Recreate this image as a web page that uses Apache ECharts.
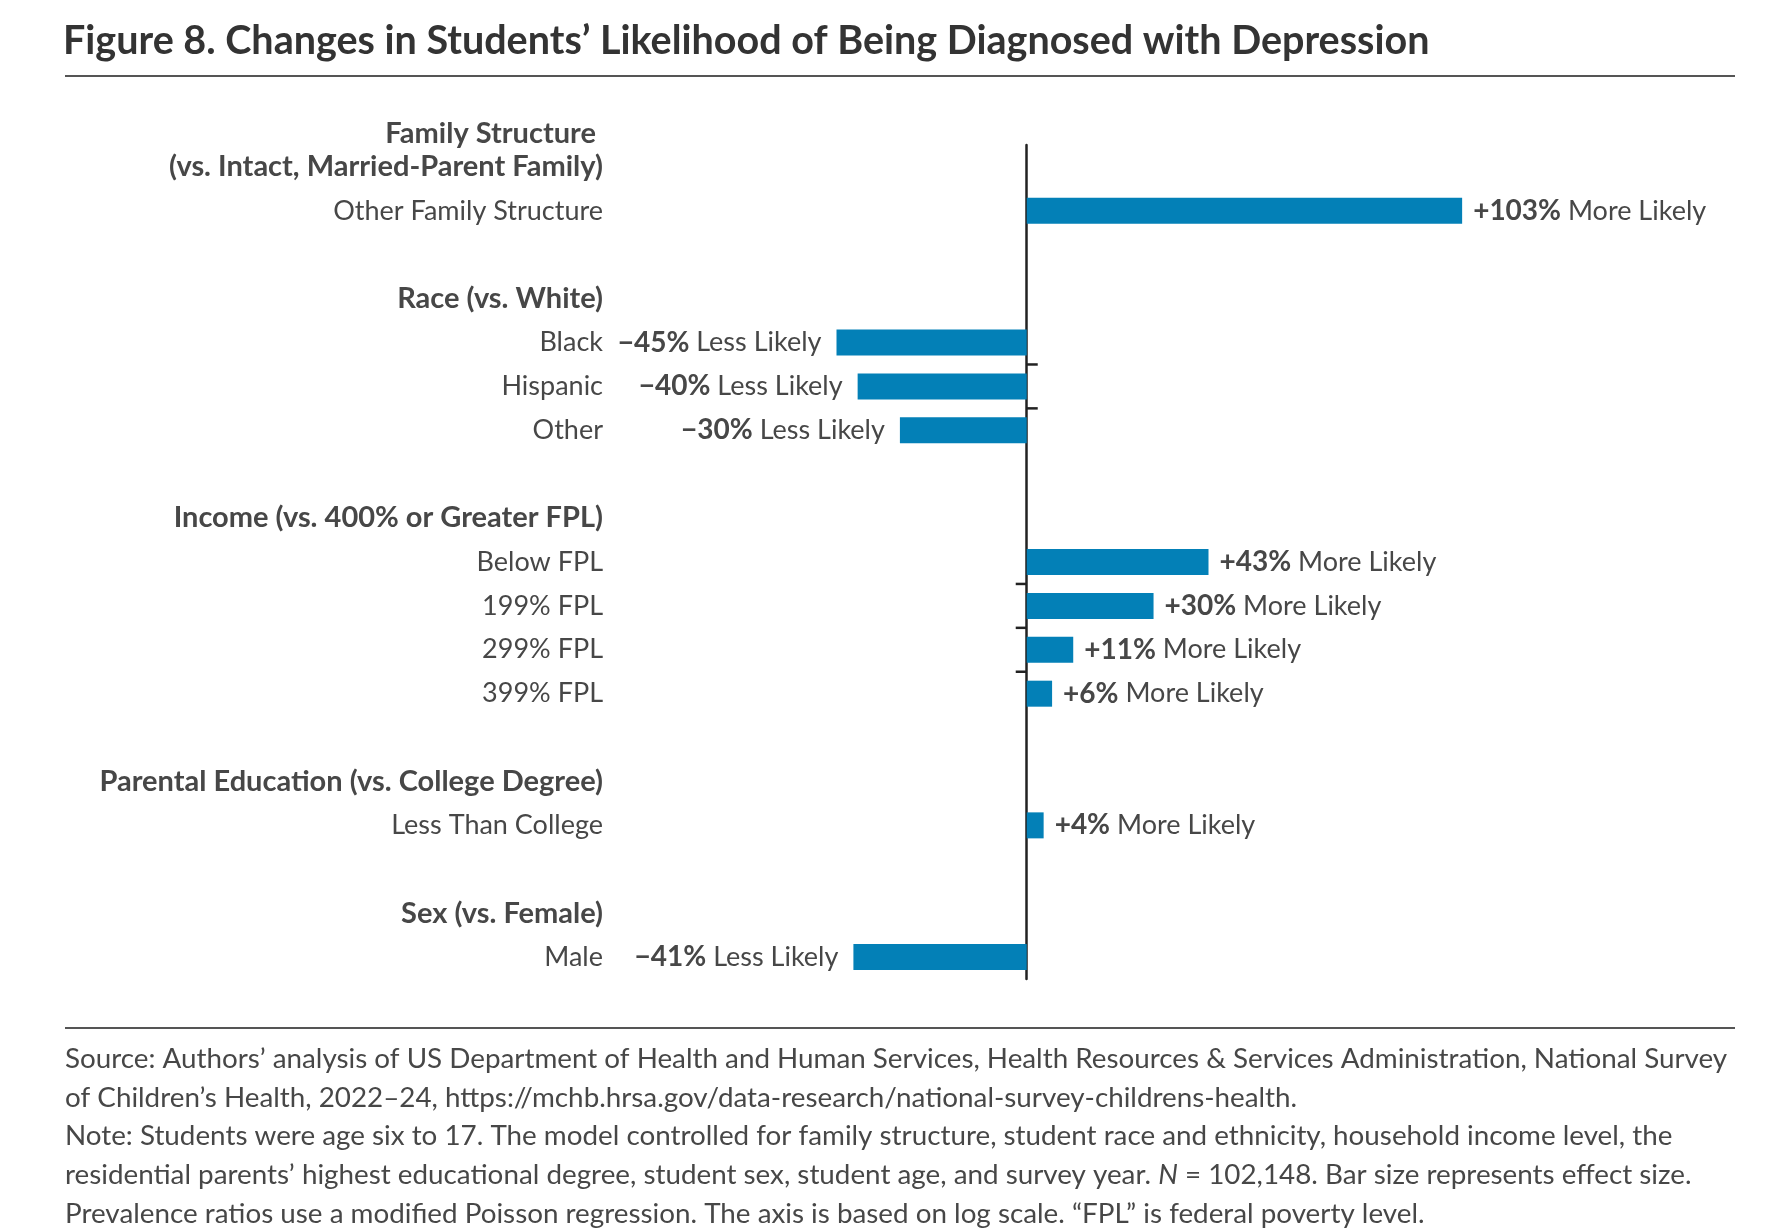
<!DOCTYPE html>
<html lang="en">
<head>
<meta charset="UTF-8">
<title>Figure 8</title>
<script src="https://cdn.jsdelivr.net/npm/echarts@6/dist/echarts.min.js"></script>
<style>
  html, body { margin: 0; padding: 0; background: #fff; }
  #main { width: 1782px; height: 1230px; }
</style>
</head>
<body>
<div id="main"></div>
<script type="text/javascript">
// rows top to bottom, blank rows keep the group gaps
var categories = [
    'Family Structure\u00a0\n(vs. Intact, Married-Parent Family)',
    'Other Family Structure',
    ' ',
    'Race (vs. White)',
    'Black',
    'Hispanic',
    'Other',
    '  ',
    'Income (vs. 400% or Greater FPL)',
    'Below FPL',
    '199% FPL',
    '299% FPL',
    '399% FPL',
    '   ',
    'Parental Education (vs. College Degree)',
    'Less Than College',
    '    ',
    'Sex (vs. Female)',
    'Male'
];
var headers = [
    'Family Structure\u00a0\n(vs. Intact, Married-Parent Family)',
    'Race (vs. White)',
    'Income (vs. 400% or Greater FPL)',
    'Parental Education (vs. College Degree)',
    'Sex (vs. Female)'
];
// percent change in likelihood
var changes = [null, 103, null, null, -45, -40, -30, null, null, 43, 30, 11, 6, null, null, 4, null, null, -41];
// little ticks on the axis: right side for race, left side for income
var ticksRight = ['Hispanic', 'Other'];
var ticksLeft = ['199% FPL', '299% FPL', '399% FPL'];

var textColor = '#474747';
var font = 'Lato';

var myChart = echarts.init(document.getElementById('main'));

var barData = [];
for (var i = 0; i < changes.length; i++) {
    if (changes[i] == null) {
        barData.push('-');
    } else {
        barData.push({
            value: changes[i],
            label: {
                position: changes[i] < 0 ? 'left' : 'right',
                distance: changes[i] < 0 ? 15 : 11
            }
        });
    }
}
var tickData = [];
for (var i = 0; i < ticksRight.length; i++) tickData.push([0, ticksRight[i], 1]);
for (var i = 0; i < ticksLeft.length; i++) tickData.push([0, ticksLeft[i], -1]);

var footLines = [
    'Source: Authors\u2019 analysis of US Department of Health and Human Services, Health Resources & Services Administration, National Survey',
    'of Children\u2019s Health, 2022\u201324, https://mchb.hrsa.gov/data-research/national-survey-childrens-health.',
    'Note: Students were age six to 17. The model controlled for family structure, student race and ethnicity, household income level, the',
    'residential parents\u2019 highest educational degree, student sex, student age, and survey year. {i|N} = 102,148. Bar size represents effect size.',
    'Prevalence ratios use a modified Poisson regression. The axis is based on log scale. \u201cFPL\u201d is federal poverty level.'
];

var option = {
    animation: false,
    backgroundColor: '#fff',
    textStyle: { fontFamily: font },
    title: {
        text: 'Figure 8. Changes in Students\u2019 Likelihood of Being Diagnosed with Depression',
        left: 58,
        top: 16,
        textStyle: { fontFamily: font, fontSize: 39.5, fontWeight: 'bold', color: '#333' }
    },
    graphic: [
        { type: 'line', shape: { x1: 65, y1: 76, x2: 1735, y2: 76 }, style: { stroke: '#555', lineWidth: 2 } },
        { type: 'line', shape: { x1: 65, y1: 1028, x2: 1735, y2: 1028 }, style: { stroke: '#555', lineWidth: 2 } },
        {
            type: 'text',
            left: 65,
            top: 1040,
            style: {
                text: footLines.join('\n'),
                fontFamily: font,
                fontSize: 27.8,
                lineHeight: 38.6,
                fill: textColor,
                rich: {
                    i: { fontFamily: font, fontSize: 27.8, fontStyle: 'italic', lineHeight: 38.6, fill: textColor }
                }
            }
        }
    ],
    grid: { left: 604, right: 248, top: 145, bottom: 251, containLabel: false },
    xAxis: { type: 'value', min: -100, max: 120, show: false },
    yAxis: [{
        type: 'category',
        inverse: true,
        data: categories,
        position: 'left',
        axisLine: { show: false, onZero: false },
        axisTick: { show: false },
        axisLabel: {
            margin: 1,
            interval: 0,
            showMinLabel: true,
            showMaxLabel: true,
            formatter: function (value) {
                if (headers.indexOf(value) >= 0) {
                    var parts = value.split('\n');
                    if (parts.length > 1) {
                        return '{h|' + parts[0] + '}\n{h|' + parts[1] + '}\n{h| }';
                    }
                    return '{h|' + value + '}';
                }
                return '{n|' + value + '}';
            },
            rich: {
                h: { fontFamily: font, fontSize: 29, fontWeight: 'bold', color: textColor, lineHeight: 33, align: 'right' },
                n: { fontFamily: font, fontSize: 27, color: textColor, align: 'right' }
            }
        }
    }, {
        type: 'category',
        inverse: true,
        data: categories,
        axisLine: { show: true, onZero: true, lineStyle: { color: '#222', width: 2.5 } },
        axisTick: { show: false },
        axisLabel: { show: false }
    }],
    series: [{
        type: 'bar',
        yAxisIndex: 0,
        data: barData,
        barWidth: 26,
        itemStyle: { color: '#0380b7' },
        label: {
            show: true,
            formatter: function (p) {
                var v = p.value;
                if (v > 0) return '{b|+' + v + '%} More Likely';
                return '{b|\u2212' + (-v) + '%} Less Likely';
            },
            fontFamily: font,
            fontSize: 27,
            color: textColor,
            rich: {
                b: { fontFamily: font, fontSize: 28, fontWeight: 'bold', color: textColor }
            }
        },
        z: 2
    }, {
        type: 'custom',
        yAxisIndex: 0,
        data: tickData,
        encode: { x: 0, y: 1 },
        renderItem: function (params, api) {
            var p = api.coord([api.value(0), api.value(1)]);
            var band = api.size([0, 1])[1];
            var y = p[1] - band / 2;
            return {
                type: 'line',
                shape: { x1: p[0], y1: y, x2: p[0] + api.value(2) * 11, y2: y },
                style: { stroke: '#222', lineWidth: 2.5 }
            };
        },
        z: 3
    }]
};
myChart.setOption(option);
</script>
</body>
</html>
